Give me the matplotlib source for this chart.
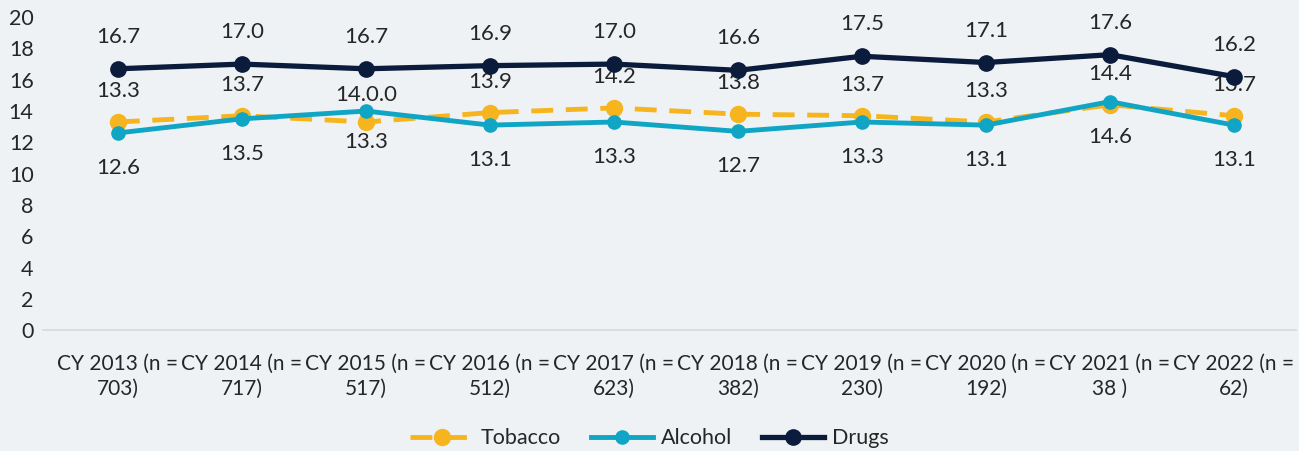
import matplotlib
matplotlib.use("Agg")
import matplotlib.pyplot as plt

categories = ["CY 2013 (n =\n703)", "CY 2014 (n =\n717)", "CY 2015 (n =\n517)", "CY 2016 (n =\n512)",
              "CY 2017 (n =\n623)", "CY 2018 (n =\n382)", "CY 2019 (n =\n230)", "CY 2020 (n =\n192)",
              "CY 2021 (n =\n38 )", "CY 2022 (n =\n62)"]
tobacco = [13.3, 13.7, 13.3, 13.9, 14.2, 13.8, 13.7, 13.3, 14.4, 13.7]
alcohol = [12.6, 13.5, 14.0, 13.1, 13.3, 12.7, 13.3, 13.1, 14.6, 13.1]
drugs = [16.7, 17.0, 16.7, 16.9, 17.0, 16.6, 17.5, 17.1, 17.6, 16.2]
tobacco_labels = ["13.3", "13.7", "13.3", "13.9", "14.2", "13.8", "13.7", "13.3", "14.4", "13.7"]
alcohol_labels = ["12.6", "13.5", "14.0.0", "13.1", "13.3", "12.7", "13.3", "13.1", "14.6", "13.1"]
drugs_labels = ["16.7", "17.0", "16.7", "16.9", "17.0", "16.6", "17.5", "17.1", "17.6", "16.2"]
# label placement: True = above the point
tobacco_above = [True, True, False, True, True, True, True, True, True, True]
alcohol_above = [False, False, True, False, False, False, False, False, False, False]

plt.rcParams['font.family'] = ['Lato', 'DejaVu Sans']
bg = "#EEF2F4"
c_tob = "#F6B51F"
c_alc = "#10A5C5"
c_drg = "#0B1B3B"
txt = "#262626"

fig = plt.figure(figsize=(12.99, 4.51), dpi=100, facecolor=bg)
ax = fig.add_axes([0.043, 0.268, 0.9547, 0.694], facecolor=bg)
x = list(range(len(categories)))

ax.plot(x, tobacco, color=c_tob, lw=3.5, ls=(0, (4.5, 2.6)), marker='o', ms=11.5, label="Tobacco", zorder=3)
ax.plot(x, alcohol, color=c_alc, lw=3.5, marker='o', ms=9.5, label="Alcohol", zorder=4)
ax.plot(x, drugs, color=c_drg, lw=3.8, marker='o', ms=11, label="Drugs", zorder=5)

fs = 16
for i in x:
    ax.annotate(drugs_labels[i], (i, drugs[i]), xytext=(0, 32), textcoords='offset pixels',
                ha='center', va='center', fontsize=fs, color=txt)
    ax.annotate(tobacco_labels[i], (i, tobacco[i]), xytext=(0, 31 if tobacco_above[i] else -20),
                textcoords='offset pixels', ha='center', va='center', fontsize=fs, color=txt)
    ax.annotate(alcohol_labels[i], (i, alcohol[i]), xytext=(0, 16 if alcohol_above[i] else -35),
                textcoords='offset pixels', ha='center', va='center', fontsize=fs, color=txt)

ax.set_xlim(-0.5, len(categories) - 0.5)
ax.set_ylim(0, 20)
ax.set_yticks(range(0, 21, 2))
ax.set_xticks(x)
ax.set_xticklabels(categories, fontsize=15, color=txt, linespacing=1.3)
ax.tick_params(axis='y', labelsize=15.5, colors=txt, length=0, pad=16)
ax.tick_params(axis='x', length=0, pad=17)
for s in ['top', 'right', 'left']:
    ax.spines[s].set_visible(False)
ax.spines['bottom'].set_color("#D9D9D9")
ax.spines['bottom'].set_linewidth(1.2)
ax.spines['bottom'].set_bounds(-0.6, len(categories) - 0.5)
ax.spines['bottom'].set_clip_on(False)

leg = fig.legend(loc='center', bbox_to_anchor=(0.5, 0.028), ncol=3, frameon=False,
                 fontsize=15.5, handlelength=2.9, columnspacing=1.4, handletextpad=0.35)
for t in leg.get_texts():
    t.set_color(txt)

fig.savefig("out.png", dpi=100, facecolor=bg)
